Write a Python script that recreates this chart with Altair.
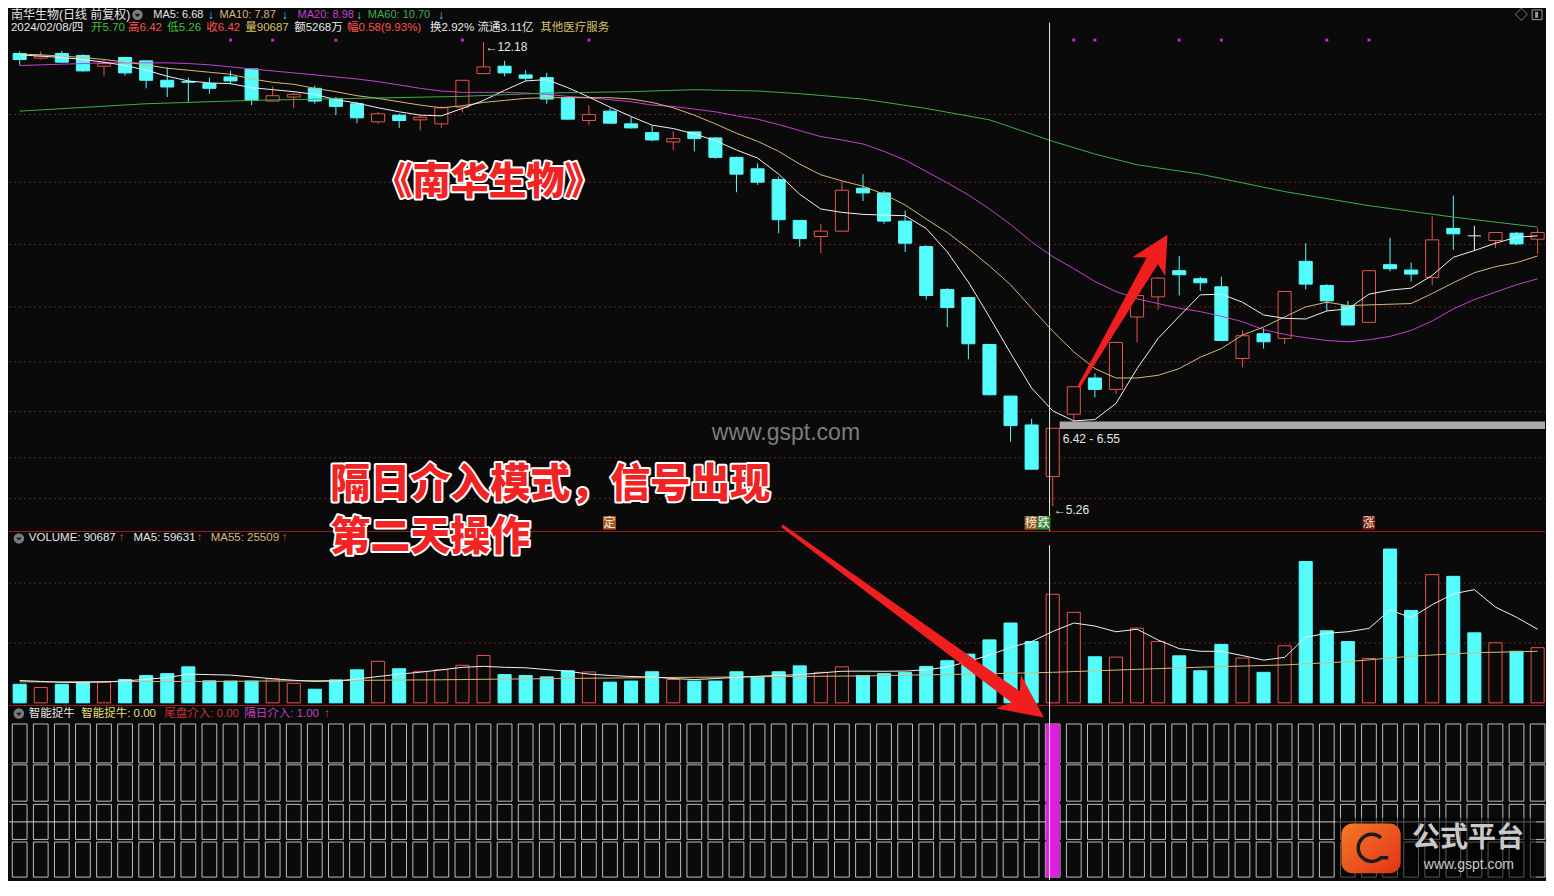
import math
import altair as alt
import pandas as pd

# ------------------------------------------------------------------ data
opens = [12.01, 11.94, 12.01, 11.98, 11.82, 11.95, 11.90, 11.61, 11.59, 11.56,
         11.66, 11.78, 11.30, 11.36, 11.49, 11.34, 11.26, 10.99, 11.09, 11.02,
         10.96, 11.21, 11.71, 11.82, 11.69, 11.65, 11.35, 11.01, 11.15, 10.96,
         10.83, 10.69, 10.84, 10.75, 10.46, 10.29, 10.13, 9.52, 9.28, 9.36,
         10.00, 9.93, 9.51, 9.13, 8.49, 8.37, 7.67, 6.90, 6.47, 5.70,
         6.63, 7.17, 7.00, 8.08, 8.38, 8.77, 8.65, 8.53, 7.46, 7.83,
         7.76, 8.91, 8.55, 8.25, 8.00, 8.86, 8.78, 8.67, 9.40, 9.29,
         9.22, 9.33, 9.24]
highs = [12.04, 12.04, 12.05, 12.00, 11.92, 11.96, 11.90, 11.80, 11.65, 11.65,
         11.75, 11.79, 11.52, 11.43, 11.53, 11.36, 11.29, 11.14, 11.11, 11.09,
         11.22, 11.61, 12.18, 11.90, 11.76, 11.72, 11.37, 11.24, 11.19, 11.06,
         10.93, 10.85, 10.85, 10.76, 10.47, 10.37, 10.17, 9.52, 9.47, 10.10,
         10.21, 9.96, 9.67, 9.15, 8.51, 8.38, 7.67, 6.90, 6.56, 6.42,
         7.04, 7.24, 7.71, 8.41, 8.67, 8.99, 8.68, 8.68, 7.88, 7.91,
         8.47, 9.18, 8.57, 8.32, 8.78, 9.26, 8.89, 9.58, 9.89, 9.44,
         9.34, 9.35, 9.40]
lows = [11.84, 11.92, 11.87, 11.74, 11.68, 11.68, 11.49, 11.36, 11.29, 11.41,
        11.55, 11.24, 11.29, 11.19, 11.26, 11.09, 10.97, 10.96, 10.90, 10.86,
        10.90, 11.13, 11.70, 11.67, 11.60, 11.26, 11.02, 10.94, 10.96, 10.89,
        10.70, 10.57, 10.55, 10.44, 9.94, 10.05, 9.33, 9.13, 9.03, 9.36,
        9.81, 9.47, 9.05, 8.34, 7.93, 7.45, 6.91, 6.22, 5.80, 5.26,
        6.51, 6.88, 6.93, 7.70, 8.19, 8.40, 8.47, 7.72, 7.33, 7.61,
        7.68, 8.49, 8.17, 7.96, 7.99, 8.76, 8.61, 8.55, 9.08, 9.07,
        9.11, 9.15, 9.02]
closes = [11.92, 11.97, 11.88, 11.75, 11.86, 11.72, 11.61, 11.51, 11.58, 11.49,
          11.60, 11.31, 11.38, 11.40, 11.30, 11.22, 11.05, 11.11, 11.01, 11.06,
          11.20, 11.61, 11.81, 11.72, 11.64, 11.33, 11.03, 11.10, 10.97, 10.90,
          10.72, 10.74, 10.74, 10.46, 10.21, 10.09, 9.53, 9.25, 9.36, 9.97,
          9.93, 9.51, 9.18, 8.40, 8.22, 7.68, 6.92, 6.46, 5.81, 6.42,
          7.04, 7.00, 7.70, 8.40, 8.66, 8.71, 8.59, 7.73, 7.80, 7.71,
          8.46, 8.57, 8.32, 7.96, 8.77, 8.80, 8.72, 9.23, 9.32, 9.29,
          9.34, 9.17, 9.34]
volumes = [15500, 12800, 15500, 17300, 17300, 19500, 22800, 24400, 30100, 18400,
           18200, 18200, 20100, 16300, 11400, 19200, 27600, 34700, 28500, 26300,
           27600, 31400, 39600, 23600, 22800, 21700, 26800, 25800, 17300, 18200,
           26000, 19500, 18200, 18200, 26000, 21400, 26000, 30900, 25500, 30100,
           22800, 24400, 25500, 30400, 35200, 40700, 52600, 66700, 51200, 90687,
           75600, 38500, 38200, 62400, 51200, 39300, 26800, 48800, 37400, 25500,
           47700, 118100, 60200, 51200, 37100, 128500, 77200, 107100, 105700, 58500,
           50200, 43100, 46100]
ma5 = [11.99, 11.97, 11.95, 11.92, 11.88, 11.83, 11.76, 11.67, 11.60, 11.57,
       11.56, 11.50, 11.47, 11.44, 11.40, 11.32, 11.27, 11.20, 11.14, 11.09,
       11.08, 11.19, 11.31, 11.46, 11.60, 11.62, 11.50, 11.36, 11.21, 11.07,
       10.94, 10.89, 10.81, 10.71, 10.57, 10.45, 10.21, 9.91, 9.69, 9.64,
       9.61, 9.60, 9.59, 9.40, 9.05, 8.60, 8.08, 7.54, 7.02, 6.68,
       6.53, 6.55, 6.79, 7.31, 7.76, 8.09, 8.41, 8.42, 8.30, 8.11,
       8.06, 8.05, 8.17, 8.20, 8.42, 8.48, 8.51, 8.70, 8.97, 9.07,
       9.18, 9.27, 9.29]
ma10 = [12.00, 11.99, 11.97, 11.95, 11.92, 11.88, 11.84, 11.79, 11.76, 11.73,
        11.70, 11.63, 11.58, 11.55, 11.49, 11.44, 11.38, 11.34, 11.29, 11.24,
        11.20, 11.23, 11.28, 11.31, 11.34, 11.35, 11.35, 11.35, 11.35, 11.33,
        11.28, 11.20, 11.09, 10.96, 10.82, 10.70, 10.55, 10.36, 10.20, 10.11,
        10.03, 9.91, 9.75, 9.54, 9.34, 9.10, 8.84, 8.56, 8.21, 7.87,
        7.56, 7.31, 7.17, 7.17, 7.21, 7.31, 7.48, 7.61, 7.81, 7.93,
        8.08, 8.23, 8.30, 8.25, 8.26, 8.27, 8.28, 8.43, 8.59, 8.74,
        8.83, 8.89, 8.99]
ma20 = [11.83, 11.84, 11.85, 11.86, 11.87, 11.87, 11.87, 11.87, 11.86, 11.84,
        11.81, 11.78, 11.75, 11.72, 11.69, 11.66, 11.63, 11.59, 11.54, 11.49,
        11.45, 11.43, 11.43, 11.43, 11.42, 11.40, 11.37, 11.35, 11.32, 11.29,
        11.24, 11.22, 11.18, 11.14, 11.08, 11.03, 10.95, 10.86, 10.77, 10.72,
        10.66, 10.55, 10.42, 10.25, 10.08, 9.90, 9.69, 9.46, 9.20, 8.98,
        8.80, 8.61, 8.46, 8.35, 8.28, 8.21, 8.16, 8.09, 8.01, 7.89,
        7.82, 7.77, 7.73, 7.71, 7.74, 7.79, 7.88, 8.02, 8.20, 8.34,
        8.45, 8.56, 8.65]
ma60_days = [0, 6, 11, 16, 21, 25, 29, 32, 35, 37, 40, 43, 46, 49, 51, 53, 56, 58, 60, 64, 68, 72]
ma60_vals = [11.15, 11.26, 11.31, 11.34, 11.37, 11.42, 11.44, 11.47, 11.45, 11.41, 11.33,
             11.19, 11.02, 10.70, 10.51, 10.35, 10.21, 10.08, 9.95, 9.74, 9.57, 9.42]
vol_ma5 = [18700, 17900, 17100, 17100, 17500, 18300, 19700, 21100, 24000, 23600,
           23200, 21700, 20100, 18900, 17900, 18300, 19900, 22000, 24000, 25600,
           27600, 29700, 30500, 29700, 29300, 27800, 26400, 24000, 22900, 22000,
           21600, 20300, 19500, 20300, 21300, 22200, 22900, 23600, 25000, 26400,
           26500, 26400, 26600, 27600, 30000, 34500, 40000, 46300, 51200, 59631,
           66700, 64200, 59400, 61500, 52500, 45300, 43100, 43000, 39500, 35700,
           38000, 54900, 58100, 59400, 62200, 77600, 71100, 82000, 91100, 94600,
           80000, 71500, 61500]
vol_ma55_days = [0, 10, 20, 30, 40, 46, 49, 53, 56, 60, 63, 66, 69, 72]
vol_ma55_vals = [17500, 18000, 19300, 21100, 22500, 24300, 25509, 28000, 29800, 31700,
                 34400, 39000, 41900, 43100]
price_grid = [11.10, 10.09, 9.16, 8.23, 7.41, 6.67, 5.98, 5.37]
vol_grid = [50000, 100000]
signal_days = [49]
marker_days = [10, 12, 15, 21, 27, 50, 51, 55, 57, 62, 64]
band_low, band_high = 6.41, 6.52
cursor_day = 48.85

# ------------------------------------------------------------------ style / layout
BG = "#0a0a0a"
RED = "#e4554b"
CYAN = "#54fcfc"
WHITE = "#f0f0f0"
TAN = "#d7b77a"
PURPLE = "#c43fd0"
GREEN = "#3fae4a"
SEP = "#9c1c1c"
GRIDC = "#742222"
BOXC = "#bdbdbd"
MAG = "#e01ee0"
FONT = "Liberation Sans, Noto Sans CJK SC, sans-serif"
CJK = "Noto Sans CJK SC, sans-serif"

W = 1536
TOTAL_H = 872
SX = W / 1554
SY = TOTAL_H / 896
HP = 523
HV = 174
HI = TOTAL_H - HP - HV
TOP_V = HP
TOP_I = HP + HV
HALF = 0.31
BOXHALF = 0.35

xs = alt.Scale(domain=[-0.5063, 72.35], nice=False, zero=False)
ps = alt.Scale(domain=[4.888, 12.688], nice=False, zero=False)
vs = alt.Scale(domain=[-1789, 143576], nice=False, zero=False)
ins = alt.Scale(domain=[0, 179.8], nice=False, zero=False)


def mx(xr):
    return xr * SX


def my(yr, top=0):
    return yr * SY - top


ONE = pd.DataFrame({"k": [0]})


def text(xr, yr, s, color, size=12, top=0, align="left", weight="normal",
         font=FONT, baseline="middle", **kw):
    return alt.Chart(ONE).mark_text(
        align=align, baseline=baseline, fontSize=size, font=font,
        fontWeight=weight, color=color, **kw
    ).encode(x=alt.value(mx(xr)), y=alt.value(my(yr, top)), text=alt.value(s))


def box(x1, y1, x2, y2, top, **kw):
    return alt.Chart(ONE).mark_rect(**kw).encode(
        x=alt.value(mx(x1)), x2=alt.value(mx(x2)),
        y=alt.value(my(y1, top)), y2=alt.value(my(y2, top)))


def icon(xr, yr, top):
    c = alt.Chart(ONE).mark_point(shape="circle", filled=True, size=110,
                                  color="#7a7a7a", opacity=1).encode(
        x=alt.value(mx(xr)), y=alt.value(my(yr, top)))
    v = alt.Chart(ONE).mark_point(shape="M-0.55,-0.25 L0,0.3 L0.55,-0.25", filled=False,
                                  size=49, color="#151515", strokeWidth=1.6, opacity=1).encode(
        x=alt.value(mx(xr)), y=alt.value(my(yr, top)))
    return [c, v]


def arrow(tail, tip, top, tail_w=1.5, neck_w=6.5, barb_w=19.0, head_len=37.0, neck_back=30.0):
    tx, ty = mx(tail[0]), my(tail[1], top)
    hx, hy = mx(tip[0]), my(tip[1], top)
    dx, dy = hx - tx, hy - ty
    L = math.hypot(dx, dy)
    ux, uy = dx / L, dy / L
    nx, ny = -uy, ux
    pts = [
        (hx, hy),
        (hx - head_len * ux + barb_w * nx, hy - head_len * uy + barb_w * ny),
        (hx - neck_back * ux + neck_w * nx, hy - neck_back * uy + neck_w * ny),
        (tx + tail_w * nx, ty + tail_w * ny),
        (tx - tail_w * nx, ty - tail_w * ny),
        (hx - neck_back * ux - neck_w * nx, hy - neck_back * uy - neck_w * ny),
        (hx - head_len * ux - barb_w * nx, hy - head_len * uy - barb_w * ny),
    ]
    xs_ = [p[0] for p in pts]
    ys_ = [p[1] for p in pts]
    cx = (min(xs_) + max(xs_)) / 2
    cy = (min(ys_) + max(ys_)) / 2
    K = max(max(xs_) - min(xs_), max(ys_) - min(ys_)) / 2
    path = "M" + " L".join(f"{(x - cx) / K:.4f},{(y - cy) / K:.4f}" for x, y in pts) + " Z"
    return alt.Chart(ONE).mark_point(shape=path, size=(2 * K) ** 2, filled=True,
                                     color="#f01e1e", opacity=1, strokeWidth=0).encode(
        x=alt.value(cx), y=alt.value(cy))


def big_text(xr, yr, s, top, size, align="left"):
    outline = text(xr, yr, s, "#f02424", size=size, top=top, weight=900, font=CJK,
                   align=align, stroke="#ffffff", strokeWidth=4, strokeJoin="round")
    fill = text(xr, yr, s, "#f02424", size=size, top=top, weight=900, font=CJK, align=align)
    return [outline, fill]


# ------------------------------------------------------------------ tables
N = len(closes)
idx = list(range(N))
direction = ["up" if c > o else ("flat" if c == o else "down") for o, c in zip(opens, closes)]
candles = pd.DataFrame({"i": idx, "open": opens, "high": highs, "low": lows,
                        "close": closes, "vol": volumes, "dir": direction})
X = alt.X("i:Q", scale=xs, axis=None)
XL = alt.X("xl:Q", scale=xs, axis=None)

cal = alt.Chart(candles).transform_calculate(
    top="max(datum.open, datum.close)", bot="min(datum.open, datum.close)",
    xl=f"datum.i - {HALF}", xr=f"datum.i + {HALF}")
dir_color = alt.Color("dir:N", scale=alt.Scale(domain=["up", "down", "flat"],
                                                range=[RED, CYAN, WHITE]), legend=None)

# ------------------------------------------------------------------ price panel
p_layers = []
p_layers.append(alt.Chart(pd.DataFrame({"p": price_grid})).mark_rule(
    color=GRIDC, strokeDash=[2, 3], strokeWidth=1).encode(
    y=alt.Y("p:Q", scale=ps, axis=None), x=alt.value(0), x2=alt.value(W)))
p_layers.append(alt.Chart(ONE).mark_rect(color="#a9a9a9").encode(
    x=alt.XDatum(signal_days[0] + 0.33, scale=xs, axis=None), x2=alt.X2Datum(72.35),
    y=alt.YDatum(band_low, scale=ps, axis=None), y2=alt.Y2Datum(band_high)))
p_layers.append(cal.mark_rule(strokeWidth=1).encode(
    x=X, y=alt.Y("high:Q", scale=ps, axis=None), y2="top:Q", color=dir_color))
p_layers.append(cal.mark_rule(strokeWidth=1).encode(
    x=X, y=alt.Y("bot:Q", scale=ps, axis=None), y2="low:Q", color=dir_color))
p_layers.append(cal.transform_filter("datum.dir == 'down'").mark_rect(
    fill=CYAN, stroke=CYAN, strokeWidth=1).encode(
    x=XL, x2="xr:Q", y=alt.Y("open:Q", scale=ps, axis=None), y2="close:Q"))
p_layers.append(cal.transform_filter("datum.dir == 'up'").mark_rect(
    fill=BG, stroke=RED, strokeWidth=1).encode(
    x=XL, x2="xr:Q", y=alt.Y("open:Q", scale=ps, axis=None), y2="close:Q"))
p_layers.append(cal.transform_filter("datum.dir == 'flat'").mark_rule(
    color=WHITE, strokeWidth=1).encode(
    x=XL, x2="xr:Q", y=alt.Y("open:Q", scale=ps, axis=None)))

for vals, col in [(ma20, PURPLE), (ma10, TAN), (ma5, WHITE)]:
    p_layers.append(alt.Chart(pd.DataFrame({"i": idx, "v": vals})).mark_line(
        color=col, strokeWidth=1).encode(x=X, y=alt.Y("v:Q", scale=ps, axis=None)))
p_layers.append(alt.Chart(pd.DataFrame({"i": ma60_days, "v": ma60_vals})).mark_line(
    color=GREEN, strokeWidth=1).encode(x=X, y=alt.Y("v:Q", scale=ps, axis=None)))

# cursor
p_layers.append(alt.Chart(ONE).mark_rule(color="#e8e8e8", strokeWidth=1).encode(
    x=alt.XDatum(cursor_day, scale=xs, axis=None), y=alt.value(my(15)), y2=alt.value(HP)))
# signal markers
p_layers.append(alt.Chart(pd.DataFrame({"i": marker_days})).mark_square(
    size=9, color="#c42ac4", opacity=1).encode(x=X, y=alt.value(my(33))))

# header line 1
hdr1 = [("南华生物(日线 前复权)", 2, "#e6e6e6", 12), ("MA5: 6.68", 146, "#e6e6e6", 11),
        ("↓", 201, "#4fd6f2", 12), ("MA10: 7.87", 213, TAN, 11), ("↓", 276, "#4fd6f2", 12),
        ("MA20: 8.98", 292, PURPLE, 11), ("↓", 351, "#4fd6f2", 12),
        ("MA60: 10.70", 363, GREEN, 11), ("↓", 434, "#4fd6f2", 12)]
for s, x, c, fs in hdr1:
    p_layers.append(text(x, 7, s, c, size=fs))
p_layers += icon(130, 7, 0)
hdr2 = [("2024/02/08/四", 2, "#e6e6e6"), ("开5.70", 83, "#3cc03c"), ("高6.42", 120.5, "#ff5050"),
        ("低5.26", 160, "#3cc03c"), ("收6.42", 199.6, "#ff5050"), ("量90687", 239, "#d8c068"),
        ("额5268万", 288.5, "#e6e6e6"), ("幅0.58(9.93%)", 342, "#ff5050"),
        ("换2.92%", 426, "#e6e6e6"), ("流通3.11亿", 474, "#e6e6e6"), ("其他医疗服务", 537.5, "#d8c068")]
for s, x, c in hdr2:
    p_layers.append(text(x, 20.5, s, c, size=11.5))
p_layers.append(text(1530, 7, "◇", "#9a9a9a", size=13, align="center"))
p_layers.append(box(1541, 2, 1551, 12, 0, fill=BG, stroke="#9a9a9a", strokeWidth=1))
p_layers.append(box(1544, 4, 1547, 10, 0, fill="#9a9a9a"))

# price labels
p_layers.append(text(482, 40, "←12.18", "#e6e6e6"))
p_layers.append(text(1057, 516, "←5.26", "#e6e6e6"))
p_layers.append(text(1066, 443, "6.42 - 6.55", "#e6e6e6"))

# event tags
p_layers.append(box(601, 522, 614, 536, 0, fill="#a8582a"))
p_layers.append(text(607.5, 529, "定", "#f6ead2", size=12, align="center", font=CJK))
p_layers.append(box(1027.5, 522, 1040.7, 536, 0, fill="#94602a"))
p_layers.append(text(1034, 529, "榜", "#f6ead2", size=12, align="center", font=CJK))
p_layers.append(box(1040.7, 522, 1053.5, 536, 0, fill="#2d8a35"))
p_layers.append(text(1047, 529, "跌", "#f6f6f6", size=12, align="center", font=CJK))
p_layers.append(box(1369.5, 522, 1382, 536, 0, fill="#7a1c1c"))
p_layers.append(text(1375.7, 529, "涨", "#f6ead2", size=12, align="center", font=CJK))

# watermark and big title
p_layers.append(text(786, 437, "www.gspt.com", "#7c7c7c", size=23, align="center"))
p_layers += big_text(485, 180, "《南华生物》", 0, 38, align="center")
p_layers.append(arrow((1082, 390), (1172, 233), 0))

price = alt.layer(*p_layers).properties(width=W, height=HP)

# ------------------------------------------------------------------ volume panel
v_layers = []
v_layers.append(alt.Chart(ONE).mark_rule(color=SEP, strokeWidth=1).encode(
    x=alt.value(0), x2=alt.value(W), y=alt.value(0.5)))
v_layers.append(alt.Chart(pd.DataFrame({"v": vol_grid})).mark_rule(
    color=GRIDC, strokeDash=[2, 3], strokeWidth=1).encode(
    y=alt.Y("v:Q", scale=vs, axis=None), x=alt.value(0), x2=alt.value(W)))
v_layers.append(cal.transform_filter("datum.dir != 'up'").mark_rect(
    fill=CYAN, stroke=CYAN, strokeWidth=1).encode(
    x=XL, x2="xr:Q", y=alt.Y("vol:Q", scale=vs, axis=None), y2=alt.Y2Datum(0)))
v_layers.append(cal.transform_filter("datum.dir == 'up'").mark_rect(
    fill=BG, stroke=RED, strokeWidth=1).encode(
    x=XL, x2="xr:Q", y=alt.Y("vol:Q", scale=vs, axis=None), y2=alt.Y2Datum(0)))
v_layers.append(alt.Chart(pd.DataFrame({"i": vol_ma55_days, "v": vol_ma55_vals})).mark_line(
    color=TAN, strokeWidth=1).encode(x=X, y=alt.Y("v:Q", scale=vs, axis=None)))
v_layers.append(alt.Chart(pd.DataFrame({"i": idx, "v": vol_ma5})).mark_line(
    color=WHITE, strokeWidth=1).encode(x=X, y=alt.Y("v:Q", scale=vs, axis=None)))
v_layers.append(alt.Chart(ONE).mark_rule(color="#e8e8e8", strokeWidth=1).encode(
    x=alt.XDatum(cursor_day, scale=xs, axis=None), y=alt.value(my(552, TOP_V)), y2=alt.value(HV)))
v_layers += icon(10, 545, TOP_V)
for s, x, c in [("VOLUME: 90687", 20, "#e6e6e6"), ("↑", 111, "#e04040"),
                ("MA5: 59631", 126, "#e6e6e6"), ("↑", 190, "#e04040"),
                ("MA55: 25509", 204, TAN), ("↑", 276, "#e04040")]:
    v_layers.append(text(x, 545, s, c, size=11.5, top=TOP_V))

vol = alt.layer(*v_layers).properties(width=W, height=HV)

# ------------------------------------------------------------------ indicator panel
row_top = [160.3, 118.3, 77.7, 39.0]
row_bot = [120.3, 81.0, 41.7, 3.0]
cells = pd.DataFrame([(i, t, b) for i in idx for t, b in zip(row_top, row_bot)],
                     columns=["i", "t", "b"])
i_layers = []
i_layers.append(alt.Chart(ONE).mark_rule(color=SEP, strokeWidth=1).encode(
    x=alt.value(0), x2=alt.value(W), y=alt.value(0.5)))
i_layers.append(alt.Chart(cells).transform_calculate(
    xl=f"datum.i - {BOXHALF}", xr=f"datum.i + {BOXHALF}").mark_rect(
    filled=False, color=BOXC, strokeWidth=1).encode(
    x=XL, x2="xr:Q", y=alt.Y("t:Q", scale=ins, axis=None), y2="b:Q"))
i_layers.append(alt.Chart(ONE).mark_rule(color="#cfcfcf", strokeWidth=1).encode(
    x=alt.value(0), x2=alt.value(W), y=alt.YDatum(59.7, scale=ins, axis=None)))
i_layers.append(alt.Chart(pd.DataFrame({"i": signal_days})).transform_calculate(
    xl=f"datum.i - {HALF + 0.02}", xr=f"datum.i + {HALF + 0.02}").mark_rect(
    color=MAG, opacity=1).encode(
    x=XL, x2="xr:Q", y=alt.YDatum(160.3, scale=ins, axis=None), y2=alt.Y2Datum(3.0)))
i_layers.append(alt.Chart(ONE).mark_rule(color="#e8e8e8", strokeWidth=1).encode(
    x=alt.XDatum(cursor_day, scale=xs, axis=None), y=alt.value(0), y2=alt.value(HI)))
i_layers += icon(10, 725, TOP_I)
for s, x, c in [("智能捉牛", 20, "#e6e6e6"), ("智能捉牛: 0.00", 73, "#e6e07a"),
                ("尾盘介入: 0.00", 157, "#c83232"), ("隔日介入: 1.00", 238, "#c440c4"),
                ("↑", 319, "#e04040")]:
    i_layers.append(text(x, 725, s, c, size=11.5, top=TOP_I))

# logo
i_layers.append(box(1342, 832, 1545, 894, TOP_I, color="#000000", opacity=0.55))
i_layers.append(alt.Chart(ONE).mark_rect(
    cornerRadius=11,
    fill=alt.LinearGradient(gradient="linear", x1=0, y1=0, x2=1, y2=1,
                            stops=[alt.GradientStop(color="#f47a24", offset=0),
                                   alt.GradientStop(color="#e2321a", offset=1)])).encode(
    x=alt.value(mx(1348)), x2=alt.value(mx(1408)),
    y=alt.value(my(838, TOP_I)), y2=alt.value(my(889, TOP_I))))
i_layers.append(alt.Chart(ONE).mark_point(
    shape="M0.55,-0.55 A0.75,0.75 0 1,0 0.55,0.55 L0.95,0.55", filled=False,
    size=1300, color="#1c1c1c", strokeWidth=3.5, opacity=1).encode(
    x=alt.value(mx(1378)), y=alt.value(my(863, TOP_I))))
i_layers.append(text(1476, 854, "公式平台", "#c9c9c9", size=28, top=TOP_I, align="center",
                     weight="bold", font=CJK))
i_layers.append(text(1477, 881, "www.gspt.com", "#c9c9c9", size=14, top=TOP_I, align="center"))

# big captions and second arrow (drawn last so they sit on top)
i_layers += big_text(325, 490, "隔日介入模式，信号出现", TOP_I, 40)
i_layers += big_text(325, 545, "第二天操作", TOP_I, 40)
i_layers.append(arrow((782, 532), (1047, 729), TOP_I, tail_w=1.5, neck_w=7.0,
                      barb_w=21.0, head_len=44.0, neck_back=35.0))

ind = alt.layer(*i_layers).properties(width=W, height=HI)

chart = alt.vconcat(price, vol, ind, spacing=0, bounds="flush", padding=0,
                    background=BG).configure_view(strokeWidth=0)

chart.save("out.html", embed_options={"renderer": "svg", "actions": False})
